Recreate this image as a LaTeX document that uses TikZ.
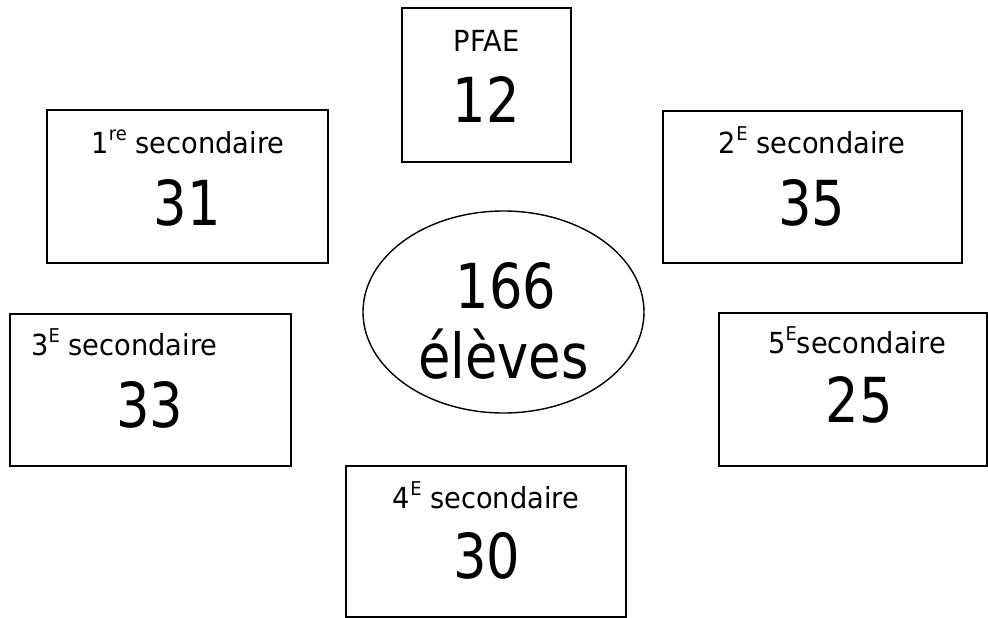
\documentclass[tikz,border=0pt]{standalone}
\usepackage{fontspec}
\setmainfont[FakeStretch=0.94]{DejaVu Sans}
\newfontfamily\bignumfont[FakeStretch=0.85]{DejaVu Sans}
\usetikzlibrary{shapes.geometric}
\newcommand{\supx}[1]{\raisebox{0.42em}{\fontsize{19}{19}\selectfont #1}}
\tikzset{
  box/.style={draw, line width=1.4pt, rectangle, inner sep=0pt, outer sep=0pt},
  oval/.style={draw, line width=1.4pt, ellipse, inner sep=0pt, outer sep=0pt},
  lbl/.style={anchor=base, inner sep=0pt, font=\fontsize{29}{32}\selectfont},
  num/.style={anchor=base, inner sep=0pt, font=\bignumfont\fontsize{62}{70}\selectfont},
}
\begin{document}
\begin{tikzpicture}[x=1pt,y=-1pt]
\useasboundingbox (0,0) rectangle (988,618);
% boxes
\node[box, minimum width=169pt, minimum height=154pt] (pfae) at (486.5,85) {};
\node[box, minimum width=281pt, minimum height=153pt] (s1) at (187.5,186.5) {};
\node[box, minimum width=299pt, minimum height=152pt] (s2) at (812.5,187) {};
\node[box, minimum width=281pt, minimum height=152pt] (s3) at (150.5,390) {};
\node[box, minimum width=268pt, minimum height=153pt] (s5) at (853,389.5) {};
\node[box, minimum width=280pt, minimum height=151pt] (s4) at (486,541.5) {};
\node[oval, minimum width=281pt, minimum height=202pt] (tot) at (503.5,312) {};
% labels
\node[lbl] (pfael) at (486.5,52) {PFAE};
\node[num] (pfaen) at (486.5,122) {12};
\node[lbl] (s1l) at (188,153) {1\supx{re} secondaire};
\node[num] (s1n) at (187.5,225) {31};
\node[lbl] (s2l) at (812,153) {2\supx{E} secondaire};
\node[num] (s2n) at (812,225) {35};
\node[lbl, anchor=base west] (s3l) at (31,355) {3\supx{E} secondaire};
\node[num] (s3n) at (150,427) {33};
\node[lbl] (s5l) at (857,353) {5\supx{E}secondaire};
\node[num] (s5n) at (859.5,422) {25};
\node[lbl] (s4l) at (486,508) {4\supx{E} secondaire};
\node[num] (s4n) at (487,578) {30};
\node[num] (totn) at (506,308) {166};
\node[num] (totl) at (503.5,378) {élèves};
\end{tikzpicture}
\end{document}
